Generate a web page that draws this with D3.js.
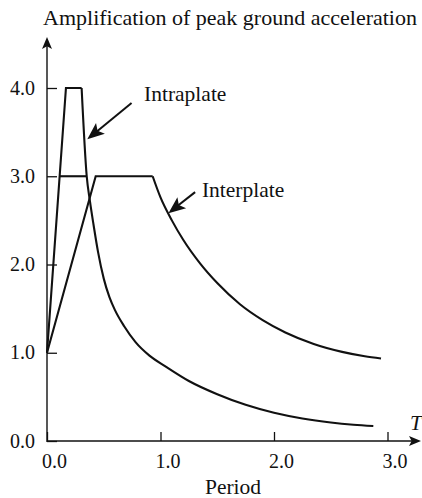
<!DOCTYPE html>
<html>
<head>
<meta charset="utf-8">
<title>Amplification of peak ground acceleration</title>
<script src="https://cdn.jsdelivr.net/npm/d3@7"></script>
<style>
  body { margin: 0; background: #fff; }
  svg { display: block; }
  svg text { font-family: "Liberation Serif", "DejaVu Serif", serif; }
</style>
</head>
<body>
<div id="chart"></div>
<script>
// tick values (labels are formatted with one decimal)
const xTicks = [0, 1, 2, 3];
const yTicks = [0, 1, 2, 3, 4];

// intraplate spectrum, period T (s) and amplification
const intraT = [0, 0.167, 0.305, 0.35, 0.378, 0.41, 0.45, 0.5, 0.55, 0.6, 0.68, 0.78, 0.9, 1.05, 1.25, 1.5, 1.75, 2.0, 2.25, 2.5, 2.7, 2.875];
const intraA = [1.0, 4.0, 4.0, 3.0, 2.72, 2.45, 2.14, 1.84, 1.63, 1.48, 1.30, 1.12, 0.97, 0.84, 0.68, 0.53, 0.41, 0.32, 0.255, 0.21, 0.185, 0.17];
const intraCorner = 2; // straight lines up to this index, smooth after

// interplate spectrum
const interT = [0, 0.429, 0.931, 1.0, 1.1, 1.2, 1.35, 1.5, 1.7, 1.9, 2.1, 2.35, 2.6, 2.8, 2.943];
const interA = [1.0, 3.0, 3.0, 2.76, 2.50, 2.28, 2.01, 1.79, 1.55, 1.37, 1.23, 1.10, 1.01, 0.96, 0.935];
const interCorner = 2;

// short level line at 3.0 between the intraplate branches
const levelT = [0.111, 0.35];
const levelA = [3.0, 3.0];

const width = 422, height = 498;
const serif = "Liberation Serif";

const x = d3.scaleLinear().domain([0, 3]).range([47, 387.5]);
const y = d3.scaleLinear().domain([0, 4]).range([441, 88]);

const svg = d3.select("#chart").append("svg")
  .attr("width", width)
  .attr("height", height);

const ink = "#111";

// little helper for filled arrow heads
function arrowHead(tip, tail, len, half) {
  const dx = tip[0] - tail[0], dy = tip[1] - tail[1];
  const d = Math.hypot(dx, dy);
  const ux = dx / d, uy = dy / d;
  const nx = -uy, ny = ux;
  const bx = tip[0] - ux * len, by = tip[1] - uy * len;
  const mx = tip[0] - ux * len * 0.78, my = tip[1] - uy * len * 0.78;
  return "M" + tip[0] + "," + tip[1] +
    "L" + (bx + nx * half) + "," + (by + ny * half) +
    "L" + mx + "," + my +
    "L" + (bx - nx * half) + "," + (by - ny * half) + "Z";
}

// axes
const yAxis = d3.axisLeft(y)
  .tickValues(yTicks)
  .tickFormat(d3.format(".1f"))
  .tickSizeInner(-10)
  .tickSizeOuter(0)
  .tickPadding(12);

const gy = svg.append("g")
  .attr("transform", "translate(" + x(0) + ",0)")
  .call(yAxis)
  .attr("font-family", serif);
gy.select(".domain").remove();
gy.selectAll("line").attr("stroke", ink).attr("stroke-width", 1.3);
gy.selectAll("text").attr("font-size", 20).attr("fill", ink).attr("dy", "0.3em");

const xAxis = d3.axisBottom(x)
  .tickValues(xTicks)
  .tickFormat(d3.format(".1f"))
  .tickSizeInner(-9)
  .tickSizeOuter(0)
  .tickPadding(13);

const gx = svg.append("g")
  .attr("transform", "translate(0," + y(0) + ")")
  .call(xAxis)
  .attr("font-family", serif);
gx.select(".domain").remove();
gx.selectAll("line").attr("stroke", ink).attr("stroke-width", 1.3);
gx.selectAll("text").attr("font-size", 20).attr("fill", ink).attr("dx", 7);

// axis lines with arrows
svg.append("line")
  .attr("x1", x(0)).attr("y1", y(0) + 1)
  .attr("x2", x(0)).attr("y2", 46)
  .attr("stroke", ink).attr("stroke-width", 1.4);
svg.append("path")
  .attr("d", arrowHead([x(0), 37], [x(0), 60], 12, 5))
  .attr("fill", ink);

svg.append("line")
  .attr("x1", x(0)).attr("y1", y(0))
  .attr("x2", 412).attr("y2", y(0))
  .attr("stroke", ink).attr("stroke-width", 1.4);
svg.append("path")
  .attr("d", arrowHead([421, y(0)], [400, y(0)], 12, 5))
  .attr("fill", ink);

// curves
function drawSeries(ts, as, corner) {
  const pts = ts.map((t, i) => [x(t), y(as[i])]);
  const straight = d3.line();
  const smooth = d3.line().curve(d3.curveMonotoneX);
  svg.append("path")
    .attr("d", straight(pts.slice(0, corner + 1)))
    .attr("fill", "none").attr("stroke", ink)
    .attr("stroke-width", 2.1).attr("stroke-linejoin", "miter");
  if (pts.length > corner + 1) {
    svg.append("path")
      .attr("d", smooth(pts.slice(corner)))
      .attr("fill", "none").attr("stroke", ink)
      .attr("stroke-width", 2.1);
  }
}

drawSeries(intraT, intraA, intraCorner);
drawSeries(interT, interA, interCorner);
drawSeries(levelT, levelA, 1);

// labels and pointer arrows (positions in data units)
const intraTip = [x(0.355), y(3.42)], intraTail = [x(0.745), y(3.83)];
svg.append("line")
  .attr("x1", intraTail[0]).attr("y1", intraTail[1])
  .attr("x2", intraTip[0] + 8).attr("y2", intraTip[1] - 6.5)
  .attr("stroke", ink).attr("stroke-width", 2);
svg.append("path")
  .attr("d", arrowHead(intraTip, intraTail, 17, 7))
  .attr("fill", ink);
svg.append("text")
  .attr("x", x(0.855)).attr("y", y(3.85))
  .attr("font-family", serif)
  .attr("font-size", 21.5).attr("fill", ink)
  .text("Intraplate");

const interTip = [x(1.07), y(2.58)], interTail = [x(1.305), y(2.82)];
svg.append("line")
  .attr("x1", interTail[0]).attr("y1", interTail[1])
  .attr("x2", interTip[0] + 8).attr("y2", interTip[1] - 6.5)
  .attr("stroke", ink).attr("stroke-width", 2);
svg.append("path")
  .attr("d", arrowHead(interTip, interTail, 17, 7))
  .attr("fill", ink);
svg.append("text")
  .attr("x", x(1.365)).attr("y", y(2.77))
  .attr("font-family", serif)
  .attr("font-size", 21.5).attr("fill", ink)
  .text("Interplate");

// titles; the top one spans x 43..417 as in the original
svg.append("text")
  .attr("x", 43).attr("y", 25)
  .attr("font-family", serif)
  .attr("font-size", 21.5).attr("fill", ink)
  .attr("textLength", 374)
  .attr("lengthAdjust", "spacingAndGlyphs")
  .text("Amplification of peak ground acceleration");

svg.append("text")
  .attr("x", 233).attr("y", 494)
  .attr("text-anchor", "middle")
  .attr("font-family", serif)
  .attr("font-size", 21.5).attr("fill", ink)
  .text("Period");

svg.append("text")
  .attr("x", 410).attr("y", 430)
  .attr("font-family", serif)
  .attr("font-size", 21.5).attr("font-style", "italic").attr("fill", ink)
  .text("T");
</script>
</body>
</html>
